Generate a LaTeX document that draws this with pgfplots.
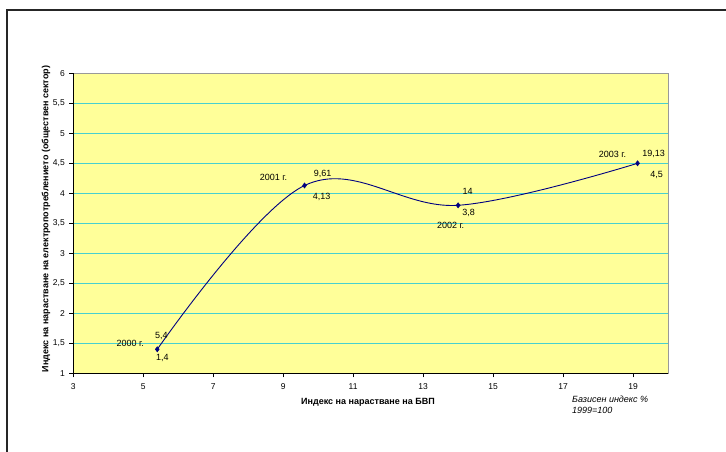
\documentclass[border=0pt]{standalone}
\usepackage{fontspec}
\setmainfont{Liberation Sans}
\usepackage{pgfplots}
\pgfplotsset{compat=1.18}

\definecolor{plotbg}{RGB}{255,255,153}
\definecolor{gridc}{RGB}{72,208,208}
\definecolor{navy}{RGB}{0,0,128}

\pgfplotstableread{
x     y
5.4   1.4
9.61  4.13
14    3.8
19.13 4.5
}\growth

\begin{document}
\begin{tikzpicture}
\path[use as bounding box] (0pt,0pt) rectangle (726pt,451pt);
% chart frame
\draw[line width=2.4pt, black!85] (7pt,-5pt) -- (7pt,441pt) -- (735pt,441pt);

\begin{axis}[
  at={(73.3pt,77.7pt)}, anchor=south west,
  scale only axis, width=594.7pt, height=300pt,
  xmin=3, xmax=20, ymin=1, ymax=6,
  xtick={3,5,...,19}, ytick={1,1.5,...,6},
  xtick pos=bottom, ytick pos=left,
  tick align=outside, major tick length=4pt,
  tick style={black, line width=0.6pt},
  axis background/.style={fill=plotbg},
  axis line style={draw=gray!80, line width=1pt},
  ymajorgrids, grid style={gridc, line width=1pt},
  /pgf/number format/use comma,
  /pgf/number format/assume math mode=true,
  ticklabel style={font=\fontsize{8.5}{10}\selectfont},
  xticklabel style={yshift=-3pt},
  yticklabel style={xshift=-1pt},
  clip=false,
]
\addplot[navy, line width=0.9pt, smooth, tension=0.6,
  mark=diamond*, mark size=2.6pt, mark options={fill=navy, line width=0.5pt}]
  table[x=x, y=y] {\growth};

\draw[black, line width=1.1pt] (rel axis cs:0,1) -- (rel axis cs:0,0) -- (rel axis cs:1,0);

\begin{scope}[every node/.style={font=\fontsize{9}{10}\selectfont, inner sep=0pt}]
\node at ([shift={(-27pt,6pt)}]axis cs:5.4,1.4) {2000 г.};
\node at ([shift={(4pt,13pt)}]axis cs:5.4,1.4) {5,4};
\node at ([shift={(5pt,-9pt)}]axis cs:5.4,1.4) {1,4};
\node at ([shift={(-31pt,8.5pt)}]axis cs:9.61,4.13) {2001 г.};
\node at ([shift={(18pt,11.5pt)}]axis cs:9.61,4.13) {9,61};
\node at ([shift={(17pt,-11.5pt)}]axis cs:9.61,4.13) {4,13};
\node at ([shift={(9.5pt,14pt)}]axis cs:14,3.8) {14};
\node at ([shift={(10.5pt,-8pt)}]axis cs:14,3.8) {3,8};
\node at ([shift={(-7.5pt,-20pt)}]axis cs:14,3.8) {2002 г.};
\node at ([shift={(-25pt,9pt)}]axis cs:19.13,4.5) {2003 г.};
\node at ([shift={(16pt,9pt)}]axis cs:19.13,4.5) {19,13};
\node at ([shift={(19pt,-12pt)}]axis cs:19.13,4.5) {4,5};
\end{scope}
\end{axis}

% axis titles
\node[font=\bfseries\fontsize{9}{10}\selectfont, inner sep=0pt] at (368pt,48.5pt)
  {Индекс на нарастване на БВП};
\node[font=\bfseries\fontsize{9}{10}\selectfont, inner sep=0pt, rotate=90] at (46pt,232pt)
  {Индекс на нарастване на електропотреблението (обществен сектор)};
\node[font=\itshape\fontsize{9}{10.5}\selectfont, inner sep=0pt, anchor=north west, align=left]
  at (572pt,55pt) {Базисен индекс \%\\1999=100};
\end{tikzpicture}
\end{document}
